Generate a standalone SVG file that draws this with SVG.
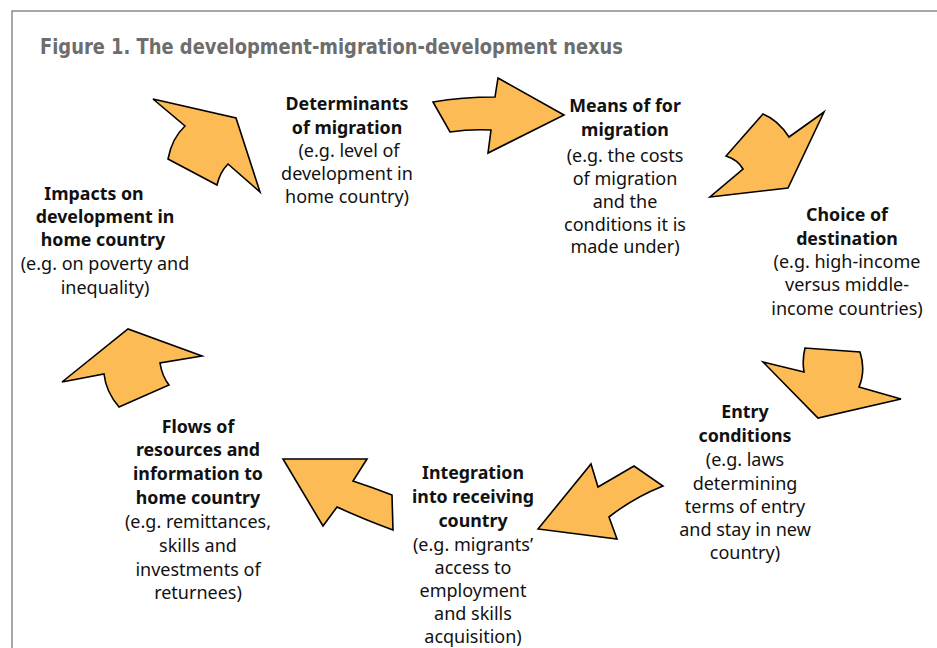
<svg xmlns="http://www.w3.org/2000/svg" width="937" height="648" viewBox="0 0 937 648">
  <style>
    .frame { fill: none; stroke: #8a8a8a; stroke-width: 1.5; }
    .title { font-family: "Liberation Sans Narrow", "DejaVu Sans Condensed", "Liberation Sans", sans-serif; font-weight: bold; font-size: 22px; fill: #6d6d6d; }
    .arrow { fill: #FCBB55; stroke: #000; stroke-width: 1.6; stroke-linejoin: miter; }
    .lbl { font-family: "Noto Sans", "DejaVu Sans", sans-serif; font-size: 18px; fill: #111; text-anchor: middle; }
    .lbl .b { font-weight: bold; font-size: 17.8px; }
  </style>
  <rect width="937" height="648" fill="#fff"/>
  <path class="frame" d="M12 648 V11 H937"/>
  <text class="title" x="40" y="54" textLength="583" lengthAdjust="spacingAndGlyphs">Figure 1. The development-migration-development nexus</text>

  <g id="connectors">
    <path id="arrow-1" class="arrow" d="M153 99 L236 118 L260 192 L228 164 Q220 172 217 185 L168 159 Q172 138 185 126 Z"/>
    <path id="arrow-2" class="arrow" d="M433 102 Q462 97 495 97 L498 78 L564 115 L488 153 L491 130 Q470 129 450 132 Z"/>
    <path id="arrow-3" class="arrow" d="M710 197 L788 188 L824 112 L789 137 Q778 120 763 114 L726 156 Q738 160 743 169 Z"/>
    <path id="arrow-4" class="arrow" d="M763 362 L804 372 Q802 360 805 348 L860 352 Q866 370 859 387 L901 399 L818 418 Z"/>
    <path id="arrow-5" class="arrow" d="M538 529 L591 464 L598 487 L634 466 L663 486 Q633 498 609 517 L617 539 Z"/>
    <path id="arrow-6" class="arrow" d="M283 459 L367 459 L353 481 Q374 488 392 495 L393 530 Q363 519 337 507 L323 526 Z"/>
    <path id="arrow-7" class="arrow" d="M62 382 L128 329 L202 356 L160 363 Q162 376 169 385 L119 407 Q106 392 104 374 Z"/>
  </g>

  <g id="determinants">
    <text class="lbl"><tspan class="b" x="347" y="110">Determinants</tspan><tspan class="b" x="347" y="134">of migration</tspan><tspan x="349" y="157">(e.g. level of</tspan><tspan x="347" y="180">development in</tspan><tspan x="347" y="203">home country)</tspan></text>
  </g>
  <g id="means">
    <text class="lbl"><tspan class="b" x="625" y="112">Means of for</tspan><tspan class="b" x="625" y="136">migration</tspan><tspan x="625" y="162">(e.g. the costs</tspan><tspan x="625" y="185">of migration</tspan><tspan x="625" y="208">and the</tspan><tspan x="625" y="231">conditions it is</tspan><tspan x="625" y="253">made under)</tspan></text>
  </g>
  <g id="choice">
    <text class="lbl"><tspan class="b" x="847" y="221">Choice of</tspan><tspan class="b" x="847" y="245">destination</tspan><tspan x="847" y="268">(e.g. high-income</tspan><tspan x="847" y="291">versus middle-</tspan><tspan x="847" y="315">income countries)</tspan></text>
  </g>
  <g id="entry">
    <text class="lbl"><tspan class="b" x="745" y="418">Entry</tspan><tspan class="b" x="745" y="442">conditions</tspan><tspan x="745" y="466">(e.g. laws</tspan><tspan x="745" y="490">determining</tspan><tspan x="745" y="513">terms of entry</tspan><tspan x="745" y="536">and stay in new</tspan><tspan x="745" y="559">country)</tspan></text>
  </g>
  <g id="integration">
    <text class="lbl"><tspan class="b" x="473" y="479">Integration</tspan><tspan class="b" x="473" y="503">into receiving</tspan><tspan class="b" x="473" y="527">country</tspan><tspan x="473" y="551">(e.g. migrants’</tspan><tspan x="473" y="574">access to</tspan><tspan x="473" y="597">employment</tspan><tspan x="473" y="620">and skills</tspan><tspan x="473" y="643">acquisition)</tspan></text>
  </g>
  <g id="flows">
    <text class="lbl"><tspan class="b" x="198" y="433">Flows of</tspan><tspan class="b" x="198" y="456">resources and</tspan><tspan class="b" x="198" y="480">information to</tspan><tspan class="b" x="198" y="504">home country</tspan><tspan x="198" y="528">(e.g. remittances,</tspan><tspan x="198" y="552">skills and</tspan><tspan x="198" y="576">investments of</tspan><tspan x="198" y="599">returnees)</tspan></text>
  </g>
  <g id="impacts">
    <text class="lbl"><tspan class="b" x="94" y="200">Impacts on</tspan><tspan class="b" x="105" y="223">development in</tspan><tspan class="b" x="103" y="246">home country</tspan><tspan x="105" y="270">(e.g. on poverty and</tspan><tspan x="105" y="294">inequality)</tspan></text>
  </g>
</svg>
